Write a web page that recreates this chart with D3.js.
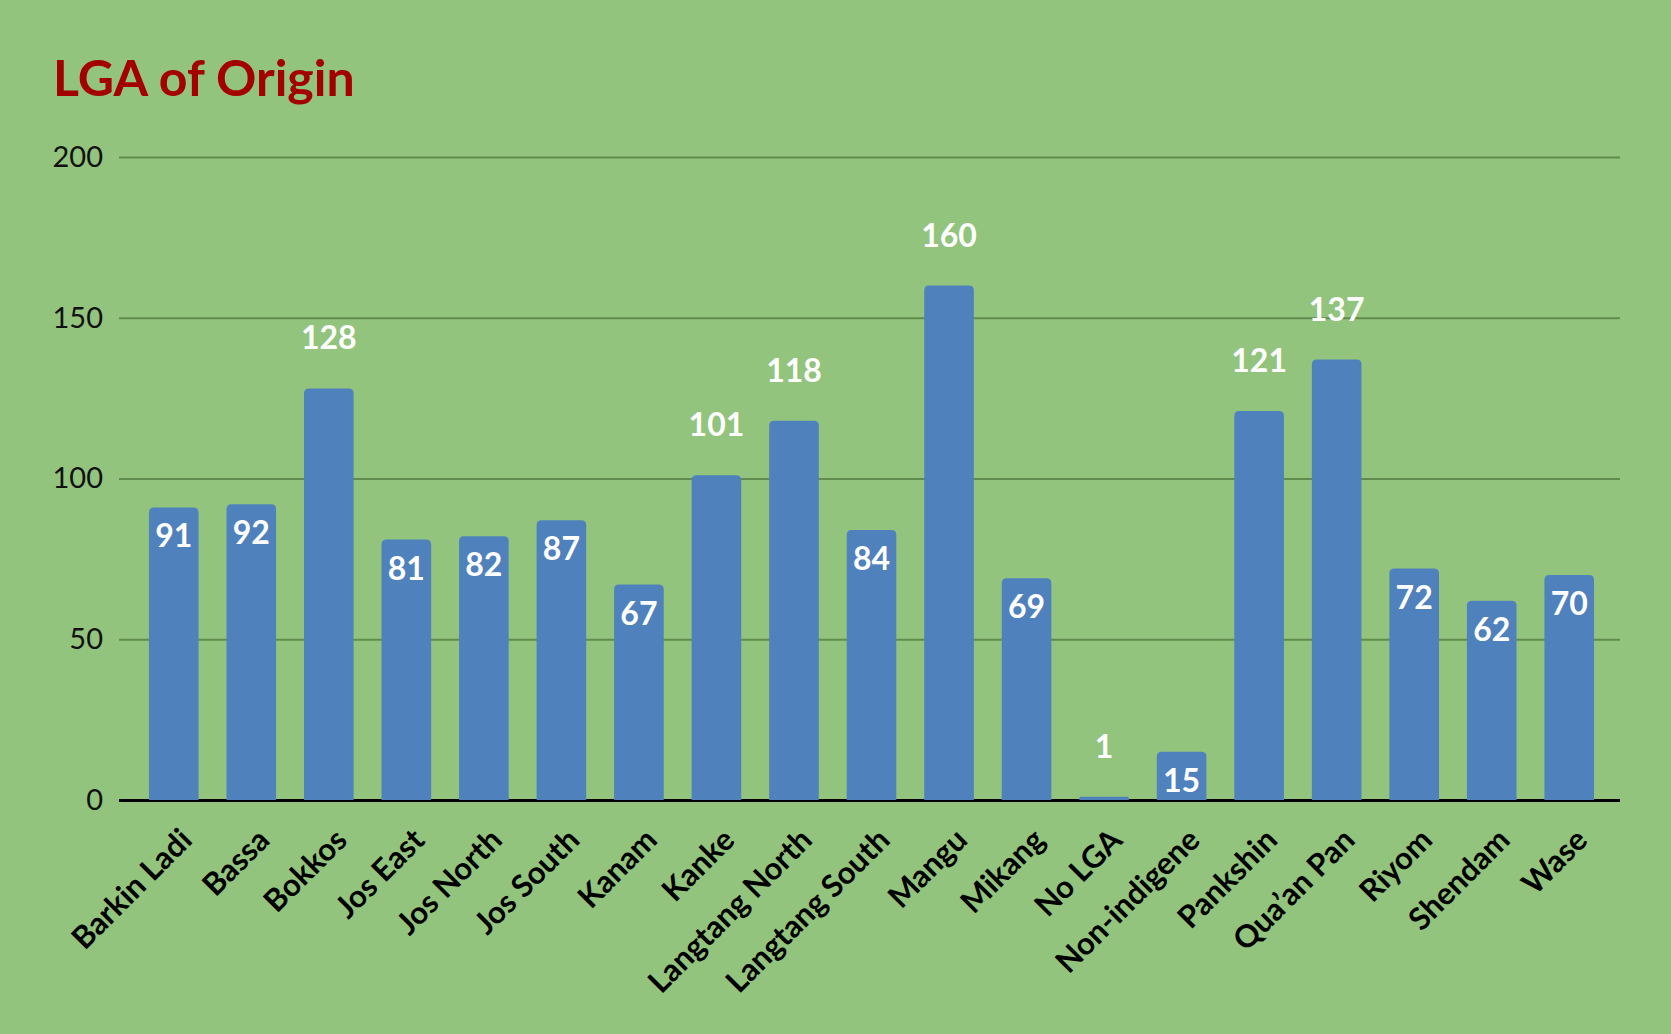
<!DOCTYPE html>
<html>
<head>
<meta charset="utf-8">
<script src="https://cdn.jsdelivr.net/npm/d3@7"></script>
<style>
  body { margin: 0; background: #93c47d; }
  svg { display: block; font-family: Lato, "Open Sans", sans-serif; }
</style>
</head>
<body>
<svg id="chart" width="1671" height="1034"></svg>
<script>
// data
let categories = ['Barkin Ladi', 'Bassa', 'Bokkos', 'Jos East', 'Jos North', 'Jos South',
  'Kanam', 'Kanke', 'Langtang North', 'Langtang South', 'Mangu', 'Mikang', 'No LGA',
  'Non-indigene', 'Pankshin', 'Qua\u2019an Pan', 'Riyom', 'Shendam', 'Wase'];
let counts = [91, 92, 128, 81, 82, 87, 67, 101, 118, 84, 160, 69, 1, 15, 121, 137, 72, 62, 70];
let yTicks = [0, 50, 100, 150, 200];
let title = 'LGA of Origin';

let svg = d3.select('#chart');
let width = +svg.attr('width');
let height = +svg.attr('height');

svg.append('rect')
.attr('width', width)
.attr('height', height)
.attr('fill', '#93c47d');

let gridLeft = 119, gridRight = 1620;

let x = d3.scaleBand()
.domain(categories)
.range([135, 1608])
.paddingInner(0.36)
.paddingOuter(0.18);

let y = d3.scaleLinear()
.domain([0, 200])
.range([800, 157]);

// title
svg.append('text')
.attr('x', 53)
.attr('y', 96)
.attr('fill', '#a30000')
.attr('font-weight', 700)
.attr('font-size', 50)
.text(title);

// gridlines + y labels
let yAxis = d3.axisLeft(y)
.tickValues(yTicks)
.tickSize(-(gridRight - gridLeft))
.tickPadding(16);

let gy = svg.append('g')
.attr('transform', `translate(${gridLeft},0)`)
.call(yAxis);
gy.select('.domain').remove();
gy.selectAll('.tick line')
.attr('stroke', d => d === 0 ? '#000' : '#5f8c4c')
.attr('stroke-width', d => d === 0 ? 3 : 2);
gy.selectAll('.tick text')
.attr('fill', '#111')
.attr('font-size', 29)
.attr('font-family', 'Lato, sans-serif');

// bars with rounded tops
let r = 5;
function barPath(d, i){
  let x0 = x(categories[i]), w = x.bandwidth();
  let top = y(d), bot = y(0);
  let rr = Math.min(r, (bot - top) / 2);
  return `M${x0},${bot}V${top + rr}Q${x0},${top} ${x0 + rr},${top}` +
    `H${x0 + w - rr}Q${x0 + w},${top} ${x0 + w},${top + rr}V${bot}Z`;
}

svg.selectAll('.bar')
.data(counts)
.enter()
.append('path')
.attr('class', 'bar')
.attr('d', barPath)
.attr('fill', '#4f81bd');

// value labels
let outside = d => d > 100 || d < 5;
svg.selectAll('.val')
.data(counts)
.enter()
.append('text')
.attr('class', 'val')
.attr('x', (d, i) => x(categories[i]) + x.bandwidth() / 2)
.attr('y', d => outside(d) ? y(d) - 39 : y(d) + 40)
.attr('text-anchor', 'middle')
.attr('fill', '#fff')
.attr('font-weight', 700)
.attr('font-size', 32)
.text(d => d);

// category labels
svg.selectAll('.cat')
.data(categories)
.enter()
.append('text')
.attr('class', 'cat')
.attr('transform', d => `translate(${x(d) + x.bandwidth() / 2 + 20},842) rotate(-45)`)
.attr('text-anchor', 'end')
.attr('fill', '#000')
.attr('font-weight', 700)
.attr('font-size', 31)
.text(d => d);
</script>
</body>
</html>
